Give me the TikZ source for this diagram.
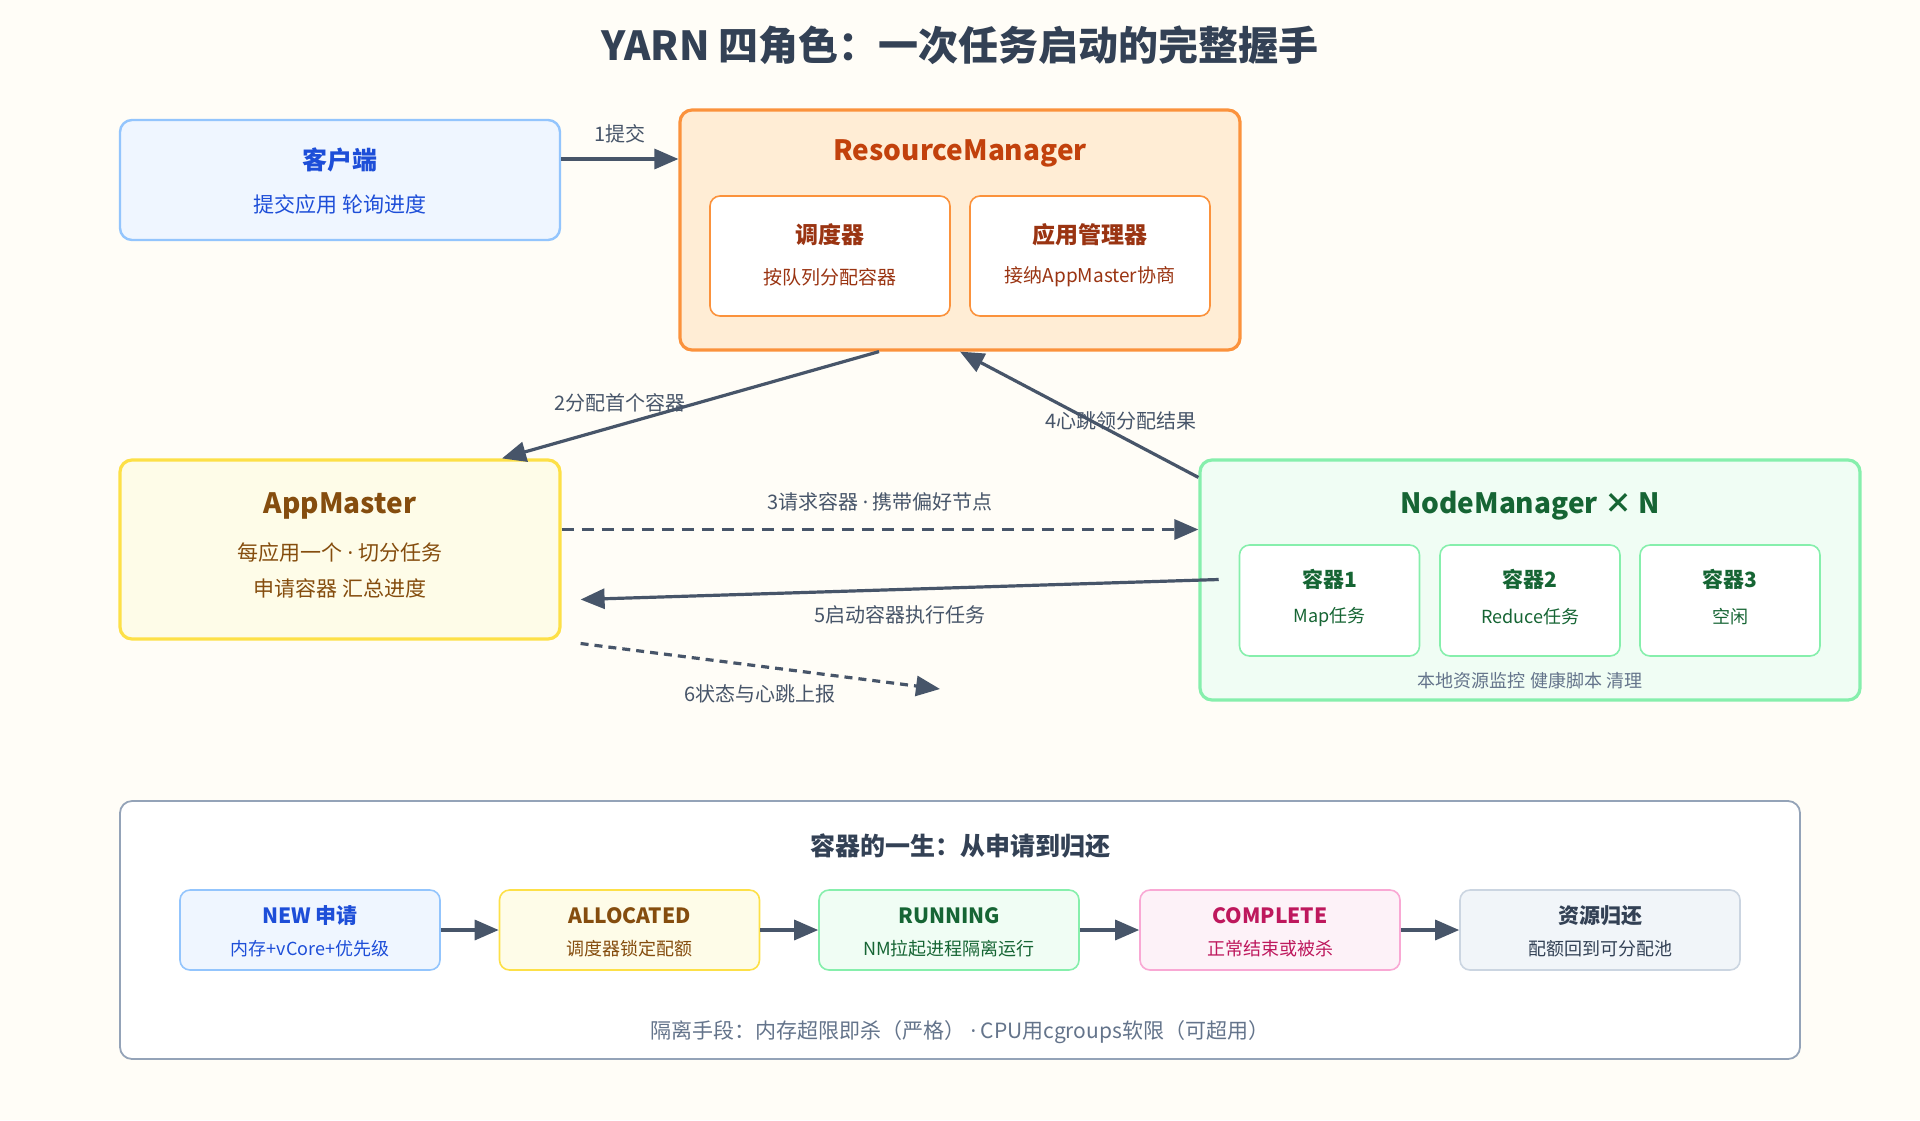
\documentclass[tikz,border=0pt]{standalone}
\usepackage{fontspec}
\setmainfont{Noto Sans CJK SC}
\newfontfamily\latin{Noto Sans}
\newcommand{\md}{{\latin ·}}
\usetikzlibrary{positioning, arrows.meta}
\definecolor{bgc}{HTML}{FFFDF7}
\definecolor{ink}{HTML}{475569}
\definecolor{blueB}{HTML}{93C5FD}\definecolor{blueF}{HTML}{EFF6FF}\definecolor{blueT}{HTML}{1D4ED8}
\definecolor{oraB}{HTML}{FB923C}\definecolor{oraF}{HTML}{FFEDD5}\definecolor{oraT}{HTML}{C2410C}\definecolor{oraD}{HTML}{9A3412}
\definecolor{yelB}{HTML}{FDE047}\definecolor{yelF}{HTML}{FEFCE8}\definecolor{yelT}{HTML}{854D0E}
\definecolor{grnB}{HTML}{86EFAC}\definecolor{grnF}{HTML}{F0FDF4}\definecolor{grnT}{HTML}{166534}
\definecolor{pnkB}{HTML}{F9A8D4}\definecolor{pnkF}{HTML}{FDF2F8}\definecolor{pnkT}{HTML}{BE185D}
\definecolor{gryB}{HTML}{CBD5E1}\definecolor{gryF}{HTML}{F1F5F9}\definecolor{gryT}{HTML}{334155}
\definecolor{frame}{HTML}{94A3B8}\definecolor{muted}{HTML}{64748B}

\begin{document}
\begin{tikzpicture}[
    x=0.5pt, y=-0.5pt,
    box/.style={rectangle, rounded corners=6pt, line width=1.2pt, inner sep=0pt},
    stage/.style={box, line width=0.8pt, minimum width=130pt, minimum height=40pt, rounded corners=5pt},
    cell/.style={box, line width=0.8pt, fill=white, rounded corners=5pt},
    head/.style={font=\bfseries\fontsize{12}{14}\selectfont},
    sub/.style={font=\fontsize{10.5}{12}\selectfont},
    lbl/.style={font=\fontsize{10}{12}\selectfont, text=ink},
    arrow/.style={-{Triangle[length=12pt,width=10pt]}, line width=1.6pt, draw=ink}
]
    \fill[bgc] (0,0) rectangle (1920,1120);
    \useasboundingbox (0,0) rectangle (1920,1120);

    % Title
    \node[font=\bfseries\fontsize{20}{24}\selectfont, text=gryT] (title) at (960,45) {YARN 四角色：一次任务启动的完整握手};

    % Client
    \node[box, draw=blueB, fill=blueF, minimum width=220pt, minimum height=60pt] (client) at (340,180) {};
    \node[head, text=blueT, font=\bfseries\fontsize{12.5}{14}\selectfont] at (340,160) {客户端};
    \node[sub, text=blueT] at (340,204) {提交应用 轮询进度};

    % ResourceManager
    \node[box, draw=oraB, fill=oraF, line width=1.6pt, minimum width=280pt, minimum height=120pt] (rm) at (960,230) {};
    \node[head, text=oraT, font=\bfseries\fontsize{14}{16}\selectfont] at (960,153) {ResourceManager};
    \node[cell, draw=oraB, minimum width=120pt, minimum height=60pt] (sched) at (830,256) {};
    \node[cell, draw=oraB, minimum width=120pt, minimum height=60pt] (appmgr) at (1090,256) {};
    \node[text=oraD, font=\bfseries\fontsize{11.5}{13}\selectfont] at (830,235) {调度器};
    \node[text=oraD, font=\fontsize{9.5}{11}\selectfont] at (830,277) {按队列分配容器};
    \node[text=oraD, font=\bfseries\fontsize{11.5}{13}\selectfont] at (1090,235) {应用管理器};
    \node[text=oraD, font=\fontsize{9.5}{11}\selectfont] at (1090,277) {接纳AppMaster协商};

    % AppMaster
    \node[box, draw=yelB, fill=yelF, line width=1.6pt, minimum width=220pt, minimum height=89.5pt] (am) at (340,549.5) {};
    \node[text=yelT, font=\bfseries\fontsize{14}{16}\selectfont] at (340,506) {AppMaster};
    \node[sub, text=yelT] at (340,552) {每应用一个 \md{} 切分任务};
    \node[sub, text=yelT] at (340,588) {申请容器 汇总进度};

    % NodeManager
    \node[box, draw=grnB, fill=grnF, line width=1.6pt, minimum width=330pt, minimum height=120pt] (nm) at (1530,580) {};
    \node[text=grnT, font=\bfseries\fontsize{14}{16}\selectfont] at (1530,506) {NodeManager × N};
    \foreach \i/\x/\t in {1/1329.5/Map任务, 2/1530/Reduce任务, 3/1730/空闲} {
        \node[cell, draw=grnB, minimum width=90pt, minimum height=55.5pt] (c\i) at (\x,600.5) {};
        \node[text=grnT, font=\bfseries\fontsize{10.5}{12}\selectfont] at (\x,579) {容器\i};
        \node[text=grnT, font=\fontsize{9}{11}\selectfont] at (\x,617) {\t};
    }
    \node[text=muted, font=\fontsize{9}{11}\selectfont] at (1530,681) {本地资源监控 健康脚本 清理};

    % Handshake
    \coordinate (rep) at (940,689);
    \draw[arrow] (client.east |- 0,159) -- (rm.west |- 0,159) node[midway, above=4pt, lbl] {1提交};
    \draw[arrow] ([xshift=-40.5pt]rm.south) -- ([xshift=81pt]am.north) node[pos=0.72, above=4pt, xshift=6pt, lbl] {2分配首个容器};
    \draw[arrow, dash pattern=on 6pt off 4pt] ([yshift=10pt]am.east) -- ([yshift=10pt]am.east -| nm.west) node[midway, above=5pt, lbl] {3请求容器 \md{} 携带偏好节点};
    \draw[arrow] ([yshift=-9.5pt]nm.north west) -- (rm.south) node[pos=0.35, lbl, xshift=3pt, yshift=6pt] {4心跳领分配结果};
    \draw[arrow] ([xshift=-10pt,yshift=10.5pt]c1.west) -- ([xshift=9.5pt,yshift=-25pt]am.east) node[midway, below=4pt, lbl] {5启动容器执行任务};
    \draw[arrow, dash pattern=on 4pt off 3pt] ([xshift=9.5pt,yshift=-47pt]am.east) -- (rep) node[pos=0.5, below=5pt, lbl] {6状态与心跳上报};

    % Container lifecycle
    \node[box, draw=frame, fill=white, line width=0.9pt, minimum width=840pt, minimum height=129pt] (life) at (960,930) {};
    \node[text=gryT, font=\bfseries\fontsize{12.5}{14}\selectfont] at (960,846) {容器的一生：从申请到归还};
    \foreach \i/\x/\b/\f/\t/\h/\s in {
        1/310/blueB/blueF/blueT/NEW 申请/内存+vCore+优先级,
        2/629.5/yelB/yelF/yelT/ALLOCATED/调度器锁定配额,
        3/949/grnB/grnF/grnT/RUNNING/NM拉起进程隔离运行,
        4/1270/pnkB/pnkF/pnkT/COMPLETE/正常结束或被杀} {
        \node[stage, draw=\b, fill=\f] (s\i) at (\x,930) {};
        \node[text=\t, font=\bfseries\fontsize{10.5}{12}\selectfont] at (\x,916) {\h};
        \node[text=\t, font=\fontsize{9}{11}\selectfont] at (\x,949) {\s};
    }
    \node[stage, draw=gryB, fill=gryF, minimum width=140pt] (s5) at (1600,930) {};
    \node[text=gryT, font=\bfseries\fontsize{10.5}{12}\selectfont] at (1600,916) {资源归还};
    \node[text=gryT, font=\fontsize{9}{11}\selectfont] at (1600,949) {配额回到可分配池};
    \foreach \a/\b in {s1/s2, s2/s3, s3/s4, s4/s5}
        \draw[arrow] (\a.east) -- (\b.west);
    \node[text=muted, font=\fontsize{10.5}{12}\selectfont] at (960,1032) {隔离手段：内存超限即杀（严格） \md{} CPU用cgroups软限（可超用）};
\end{tikzpicture}
\end{document}
